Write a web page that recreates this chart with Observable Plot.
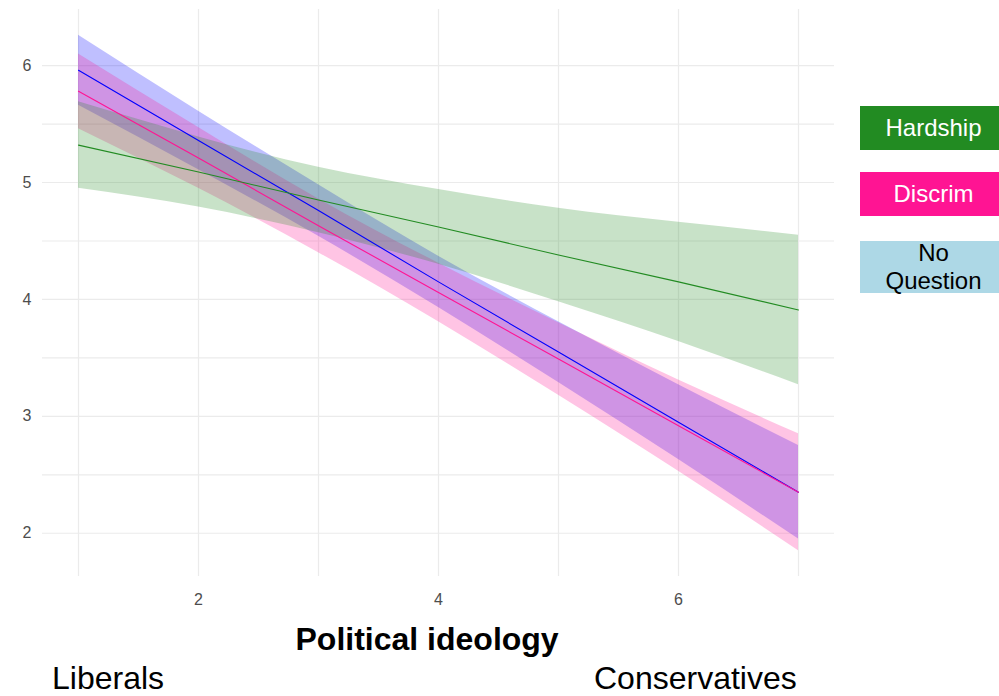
<!DOCTYPE html>
<html>
<head>
<meta charset="utf-8">
<script src="https://cdn.jsdelivr.net/npm/d3@7"></script>
<script src="https://cdn.jsdelivr.net/npm/@observablehq/plot@0.6"></script>
<style>
  body { margin: 0; background: #fff; font-family: "Liberation Sans", Arial, sans-serif; }
  #wrap { position: relative; width: 999px; height: 696px; overflow: hidden; }
  .lab { position: absolute; white-space: nowrap; line-height: 1; color: #000; }
  .key { position: absolute; left: 860px; width: 147px; display: flex; align-items: center;
         justify-content: center; text-align: center; font-size: 24px; line-height: 28px; }
</style>
</head>
<body>
<div id="wrap"></div>
<script>
// Political ideology scale (1 = liberal, 7 = conservative)
const ideology = [1, 2, 3, 4, 5, 6, 7];

// Conditions, in drawing order
const groups = ["No Question", "Discrim", "Hardship"];
const groupColors = ["blue", "deeppink", "forestgreen"];
const keyColors = { "Hardship": "forestgreen", "Discrim": "deeppink", "No Question": "lightblue" };

// Fitted values and confidence limits per condition
const noQuestionFit  = [5.96, 5.36, 4.76, 4.15, 3.55, 2.95, 2.35];
const noQuestionLow  = [5.66, 5.11, 4.54, 3.93, 3.29, 2.63, 1.95];
const noQuestionHigh = [6.26, 5.61, 4.98, 4.37, 3.81, 3.27, 2.75];

const discrimFit  = [5.78, 5.21, 4.63, 4.06, 3.49, 2.92, 2.35];
const discrimLow  = [5.46, 4.95, 4.40, 3.81, 3.18, 2.53, 1.85];
const discrimHigh = [6.10, 5.47, 4.86, 4.31, 3.80, 3.31, 2.85];

const hardshipFit  = [5.32, 5.09, 4.85, 4.62, 4.38, 4.15, 3.91];
const hardshipLow  = [4.95, 4.79, 4.57, 4.30, 3.98, 3.64, 3.27];
const hardshipHigh = [5.69, 5.39, 5.13, 4.94, 4.78, 4.66, 4.55];

// Axis ticks and grid positions
const xTicks = [2, 4, 6];
const yTicks = [2, 3, 4, 5, 6];
const xGrid = [1, 2, 3, 4, 5, 6, 7];
const yGrid = [2, 2.5, 3, 3.5, 4, 4.5, 5, 5.5, 6];

const series = {
  "No Question": [noQuestionFit, noQuestionLow, noQuestionHigh],
  "Discrim": [discrimFit, discrimLow, discrimHigh],
  "Hardship": [hardshipFit, hardshipLow, hardshipHigh]
};

const rows = groups.flatMap(g =>
  ideology.map((x, i) => ({
    group: g, x,
    fit: series[g][0][i], lo: series[g][1][i], hi: series[g][2][i]
  }))
);

const chart = Plot.plot({
  width: 999,
  height: 696,
  marginLeft: 42,
  marginRight: 165,
  marginTop: 9,
  marginBottom: 120,
  x: { domain: [0.7, 7.3] },
  y: { domain: [1.63, 6.48] },
  color: { domain: groups, range: groupColors },
  style: { fontFamily: "'Liberation Sans', Arial, sans-serif", fontSize: "16px", color: "#4d4d4d", background: "#fff" },
  marks: [
    Plot.ruleY(yGrid, { stroke: "#ebebeb", strokeWidth: 1.2 }),
    Plot.ruleX(xGrid, { stroke: "#ebebeb", strokeWidth: 1.2 }),
    Plot.areaY(rows, { x: "x", y1: "lo", y2: "hi", z: "group", fill: "group", fillOpacity: 0.25, curve: "natural" }),
    Plot.line(rows, { x: "x", y: "fit", z: "group", stroke: "group", strokeWidth: 1.1 }),
    Plot.axisX({ ticks: xTicks, tickFormat: "d", tickSize: 0, tickPadding: 17, label: null, fill: "#4d4d4d" }),
    Plot.axisY({ ticks: yTicks, tickFormat: "d", tickSize: 0, tickPadding: 11, label: null, fill: "#4d4d4d" })
  ]
});

const wrap = document.getElementById("wrap");
wrap.appendChild(chart);

function addLabel(text, left, top, size, weight) {
  const d = document.createElement("div");
  d.className = "lab";
  d.textContent = text;
  d.style.left = left + "px";
  d.style.top = top + "px";
  d.style.fontSize = size + "px";
  if (weight) d.style.fontWeight = weight;
  wrap.appendChild(d);
  return d;
}

// Axis title, centred under the panel
const title = addLabel("Political ideology", 0, 623, 32, "bold");
title.style.left = (427 - title.offsetWidth / 2) + "px";

addLabel("Liberals", 52, 662, 32);
const cons = addLabel("Conservatives", 0, 662, 32);
cons.style.left = (797 - cons.offsetWidth) + "px";

// Condition key
const keys = [
  { name: "Hardship", top: 106, h: 44, text: "Hardship", color: "#fff" },
  { name: "Discrim", top: 172, h: 44, text: "Discrim", color: "#fff" },
  { name: "No Question", top: 241, h: 52, text: "No<br>Question", color: "#000" }
];
keys.forEach(k => {
  const d = document.createElement("div");
  d.className = "key";
  d.style.top = k.top + "px";
  d.style.height = k.h + "px";
  d.style.background = keyColors[k.name];
  d.style.color = k.color;
  d.innerHTML = "<span>" + k.text + "</span>";
  wrap.appendChild(d);
});
</script>
</body>
</html>
